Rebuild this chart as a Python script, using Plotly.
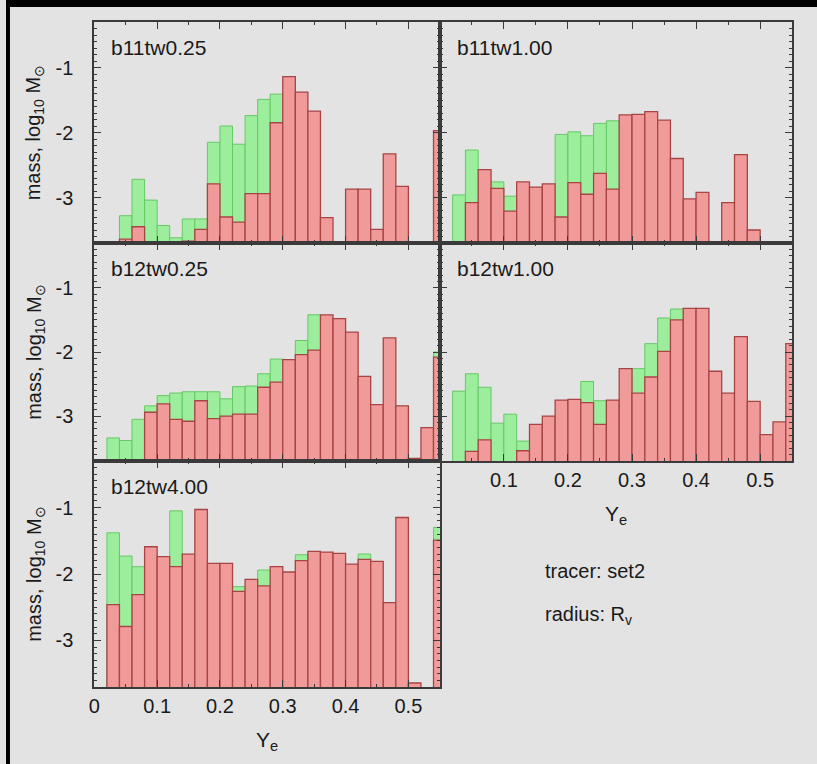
import plotly.graph_objects as go

# Figure size in pixels; margins are zero so paper coords map straight to pixels
W, H = 817, 764

# Ye bins: width 0.02, centres 0.03 ... 0.55
bin_width = 0.02
ye_centres = [round(0.03 + 0.02 * k, 2) for k in range(27)]

# log10 mass per Ye bin (None = empty bin)
b11tw025_red = [None, -3.64, -3.45, -3.68, None, None, -3.67, -3.49, -2.79, -3.30,
                -3.38, -2.94, -2.94, -1.85, -1.14, -1.38, -1.67, -3.31, None, -2.87,
                -2.87, -3.49, -2.33, -2.83, None, None, -1.97]
b11tw025_green = [None, -3.28, -2.72, -3.04, -3.43, -3.62, -3.33, -3.33, -2.15, -1.90,
                  -2.18, -1.74, -1.49, -1.41, None, None, None, None, None, None,
                  None, None, None, None, None, None, None]

b11tw100_red = [None, -3.08, -2.57, -2.86, -3.21, -2.76, -2.84, -2.79, -3.30, -2.77,
                -2.95, -2.63, -2.87, -1.73, -1.72, -1.68, -1.81, -2.40, -3.02, -2.92,
                None, -3.08, -2.34, -3.50, None, None, None]
b11tw100_green = [-2.96, -2.27, None, -2.76, -2.98, None, None, None, -2.03, -1.99,
                  -2.05, -1.86, -1.82, None, None, None, None, None, None, None,
                  None, None, None, None, None, None, None]

b12tw025_red = [None, None, None, -2.94, -2.81, -3.05, -3.08, -2.76, -3.04, -3.00,
                -2.97, -2.97, -2.55, -2.47, -2.12, -2.04, -1.97, -1.42, -1.48, -1.69,
                -2.38, -2.82, -1.78, -2.84, -3.66, -3.18, -2.08]
b12tw025_green = [-3.34, -3.38, -3.05, -2.84, -2.68, -2.64, -2.62, -2.62, -2.62, -2.73,
                  -2.54, -2.53, -2.34, -2.11, None, -1.82, -1.42, None, None, None,
                  None, None, None, None, None, None, -2.00]

b12tw100_red = [None, -3.55, -3.37, None, None, -3.54, -3.13, -3.00, -2.75, -2.74,
                -2.79, -3.13, -2.75, -2.26, -2.64, -2.39, -1.99, -1.50, -1.32, -1.32,
                -2.30, -2.64, -1.76, -2.77, -3.29, -3.09, -1.87]
b12tw100_green = [-2.61, -2.34, -2.55, -3.11, -2.97, -3.39, None, None, None, None,
                  -2.46, -2.76, None, None, -2.26, -1.87, -1.47, -1.33, None, None,
                  None, None, None, None, None, None, None]

b12tw400_red = [-2.46, -2.79, -2.31, -1.59, -1.74, -1.89, -1.70, -1.03, -1.84, -1.84,
                -2.26, -2.08, -2.18, -1.89, -1.97, -1.80, -1.66, -1.67, -1.69, -1.85,
                -1.78, -1.81, -2.43, -1.15, -3.64, None, -1.49]
b12tw400_green = [-1.38, -1.73, -1.89, None, None, -1.05, None, None, None, None,
                  -2.19, None, -1.94, None, None, -1.71, None, None, None, None,
                  -1.70, None, None, None, None, None, -1.30]

panel_names = ["b11tw0.25", "b11tw1.00", "b12tw0.25", "b12tw1.00", "b12tw4.00"]
red_series = [b11tw025_red, b11tw100_red, b12tw025_red, b12tw100_red, b12tw400_red]
green_series = [b11tw025_green, b11tw100_green, b12tw025_green, b12tw100_green, b12tw400_green]

y_tick_vals = [-1, -2, -3]
y_tick_text = ["-1", "-2", "-3"]
x_tick_vals_left = [0, 0.1, 0.2, 0.3, 0.4, 0.5]
x_tick_text_left = ["0", "0.1", "0.2", "0.3", "0.4", "0.5"]
x_tick_vals_right = [0.1, 0.2, 0.3, 0.4, 0.5]
x_tick_text_right = ["0.1", "0.2", "0.3", "0.4", "0.5"]

y_title = "mass, log<sub>10</sub> M<sub>⊙</sub>"
x_title = "Y<sub>e</sub>"
note_lines = ["tracer: set2", "radius: R<sub>v</sub>"]

# bars rise from below the visible range
FLOOR = -4.5
Y_RANGE = [-3.7, -0.3]
X_RANGE = [0, 0.55]

BG = "#e3e3e3"
FRAME = "#3a3a3a"
TEXT = "#1a1a1a"
RED_FILL = "#f09a9a"
RED_LINE = "#a84444"
GREEN_FILL = "#9cee9c"
GREEN_LINE = "#66c866"
FONT = "Liberation Sans, Arial, Helvetica, sans-serif"


def px(x):
    return x / W


def py(y):
    return 1 - y / H


# panel frames in pixels: columns (left, right), rows (top, bottom)
cols = [(89, 437), (437, 792)]
rows = [(22, 243), (243, 461), (461, 687)]
# (column, row) of each panel
placement = [(0, 0), (1, 0), (0, 1), (1, 1), (0, 2)]

fig = go.Figure()
layout = dict(
    width=W, height=H,
    margin=dict(l=0, r=0, t=0, b=0),
    paper_bgcolor=BG, plot_bgcolor=BG,
    barmode="overlay", showlegend=False,
    font=dict(family=FONT, size=20, color=TEXT),
)


def lengths(vals):
    return [None if v is None else v - FLOOR for v in vals]


annotations = []
for i, (name, red, green, (c, r)) in enumerate(zip(panel_names, red_series, green_series, placement)):
    n = i + 1
    xa = "x" if n == 1 else f"x{n}"
    ya = "y" if n == 1 else f"y{n}"
    fig.add_trace(go.Bar(
        x=ye_centres, y=lengths(green), base=FLOOR, width=bin_width,
        marker=dict(color=GREEN_FILL, line=dict(color=GREEN_LINE, width=1)),
        xaxis=xa, yaxis=ya,
    ))
    fig.add_trace(go.Bar(
        x=ye_centres, y=lengths(red), base=FLOOR, width=bin_width,
        marker=dict(color=RED_FILL, line=dict(color=RED_LINE, width=1.3)),
        xaxis=xa, yaxis=ya,
    ))

    x0, x1 = cols[c]
    top, bot = rows[r]
    show_x = (c == 0 and r == 2) or (c == 1 and r == 1)
    xaxis = dict(
        domain=[px(x0), px(x1)], range=X_RANGE, anchor=ya,
        showline=True, linecolor=FRAME, linewidth=2, mirror="allticks",
        ticks="inside", ticklen=7, tickwidth=1.3, tickcolor=FRAME,
        tickvals=x_tick_vals_left if c == 0 else x_tick_vals_right,
        ticktext=x_tick_text_left if c == 0 else x_tick_text_right,
        showticklabels=show_x, ticklabelstandoff=0,
        tickfont=dict(size=20, color=TEXT),
        minor=dict(ticks="inside", ticklen=3, dtick=0.05, tick0=0, tickcolor=FRAME),
        showgrid=False, zeroline=False, fixedrange=True,
    )
    yaxis = dict(
        domain=[py(bot), py(top)], range=Y_RANGE, anchor=xa,
        showline=True, linecolor=FRAME, linewidth=2, mirror="allticks",
        ticks="inside", ticklen=7, tickwidth=1.3, tickcolor=FRAME,
        tickvals=y_tick_vals, ticktext=y_tick_text,
        showticklabels=(c == 0), ticklabelstandoff=15,
        tickfont=dict(size=20, color=TEXT),
        minor=dict(ticks="inside", ticklen=3, dtick=0.1, tick0=0, tickcolor=FRAME),
        showgrid=False, zeroline=False, fixedrange=True,
    )
    layout["xaxis" if n == 1 else f"xaxis{n}"] = xaxis
    layout["yaxis" if n == 1 else f"yaxis{n}"] = yaxis

    # panel label
    annotations.append(dict(
        text=name, xref="paper", yref="paper", x=px(x0 + 15), y=py(top + 25),
        xanchor="left", yanchor="middle", showarrow=False,
        font=dict(size=21, color=TEXT),
    ))
    # y-axis title for the left column
    if c == 0:
        annotations.append(dict(
            text=y_title, xref="paper", yref="paper", x=px(29), y=py((top + bot) / 2),
            xanchor="center", yanchor="middle", textangle=-90, showarrow=False,
            font=dict(size=20, color=TEXT),
        ))
    # x-axis title beneath panels carrying tick labels
    if show_x:
        annotations.append(dict(
            text=x_title, xref="paper", yref="paper", x=px((x0 + x1) / 2),
            y=py(bot + 54), xanchor="center", yanchor="middle", showarrow=False,
            font=dict(size=21, color=TEXT),
        ))

for j, line in enumerate(note_lines):
    annotations.append(dict(
        text=line, xref="paper", yref="paper", x=px(541), y=py(571 + 44 * j),
        xanchor="left", yanchor="middle", showarrow=False,
        font=dict(size=20, color=TEXT),
    ))

layout["annotations"] = annotations
# dark bands along the top and left edges of the page
layout["shapes"] = [
    dict(type="rect", xref="paper", yref="paper", x0=0, x1=1, y0=py(7), y1=1,
         fillcolor="#000000", line=dict(width=0), layer="above"),
    dict(type="rect", xref="paper", yref="paper", x0=0, x1=px(4), y0=0, y1=1,
         fillcolor="#000000", line=dict(width=0), layer="above"),
]

fig.update_layout(**layout)
fig.write_html("out.html")
